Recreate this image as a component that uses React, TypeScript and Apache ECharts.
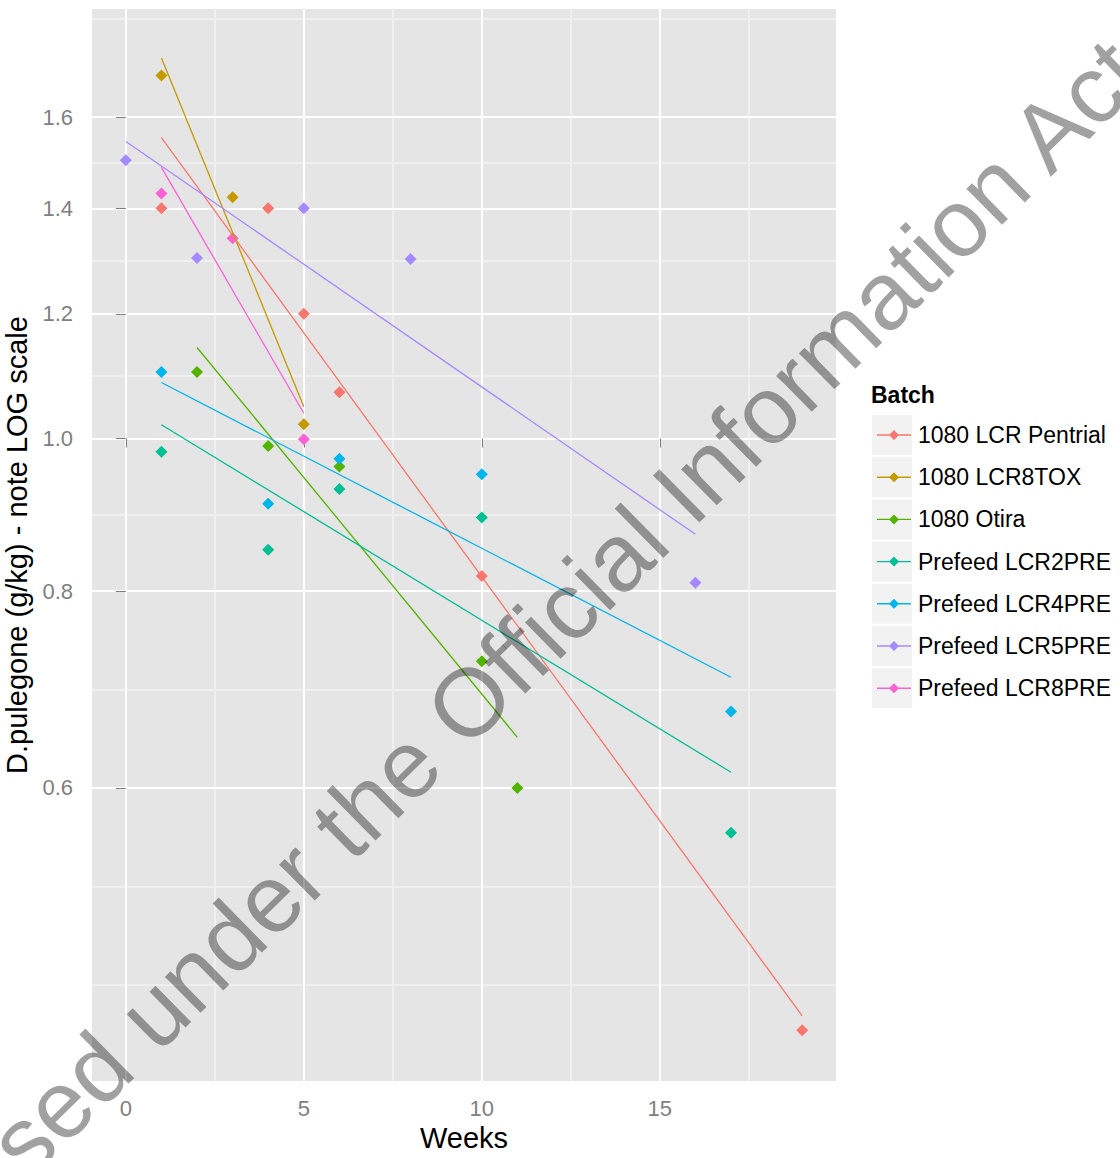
import React, { useEffect, useRef } from 'react';
import * as echarts from 'echarts';

const batches = [
  '1080 LCR Pentrial',
  '1080 LCR8TOX',
  '1080 Otira',
  'Prefeed LCR2PRE',
  'Prefeed LCR4PRE',
  'Prefeed LCR5PRE',
  'Prefeed LCR8PRE',
];
const batchColors = ['#F8766D', '#C49A00', '#53B400', '#00C094', '#00B6EB', '#A58AFF', '#FB61D7'];

// Weeks and D.pulegone (g/kg) per batch
const pentrialWeeks = [1, 4, 5, 6, 10, 19];
const pentrialValues = [1.4, 1.4, 1.2, 1.07, 0.818, 0.421];
const lcr8toxWeeks = [1, 3, 5];
const lcr8toxValues = [1.7, 1.423, 1.021];
const otiraWeeks = [2, 4, 6, 10, 11];
const otiraValues = [1.102, 0.989, 0.96, 0.722, 0.6];
const lcr2preWeeks = [1, 4, 6, 10, 17];
const lcr2preValues = [0.981, 0.85, 0.929, 0.891, 0.562];
const lcr4preWeeks = [1, 4, 6, 10, 17];
const lcr4preValues = [1.102, 0.909, 0.971, 0.949, 0.671];
const lcr5preWeeks = [0, 2, 5, 8, 16];
const lcr5preValues = [1.502, 1.302, 1.4, 1.3, 0.81];
const lcr8preWeeks = [1, 3, 5];
const lcr8preValues = [1.431, 1.34, 0.999];

const yTickLabels = [0.6, 0.8, 1.0, 1.2, 1.4, 1.6];
const xTickLabels = [0, 5, 10, 15];
const xMinorBreaks = [2.5, 7.5, 12.5, 17.5];

const FONT = '"Liberation Sans", Arial, sans-serif';
const DIAMOND_LINE_ICON = 'path://M0,4.3 L34,4.3 L34,5.7 L0,5.7 Z M17,0 L22,5 L17,10 L12,5 Z';

function fitLine(xs: number[], ys: number[]) {
  const n = xs.length;
  const mx = xs.reduce((a, b) => a + b, 0) / n;
  const my = ys.reduce((a, b) => a + b, 0) / n;
  let sxy = 0;
  let sxx = 0;
  for (let i = 0; i < n; i++) {
    sxy += (xs[i] - mx) * (ys[i] - my);
    sxx += (xs[i] - mx) * (xs[i] - mx);
  }
  const slope = sxy / sxx;
  const icpt = my - slope * mx;
  const x0 = Math.min(...xs);
  const x1 = Math.max(...xs);
  return [
    [x0, icpt + slope * x0],
    [x1, icpt + slope * x1],
  ];
}

export default function App() {
  const ref = useRef<HTMLDivElement>(null);

  useEffect(() => {
    if (!ref.current) return;
    const chart = echarts.init(ref.current, undefined, { renderer: 'svg' });

    const weeksList = [pentrialWeeks, lcr8toxWeeks, otiraWeeks, lcr2preWeeks, lcr4preWeeks, lcr5preWeeks, lcr8preWeeks];
    const valuesList = [pentrialValues, lcr8toxValues, otiraValues, lcr2preValues, lcr4preValues, lcr5preValues, lcr8preValues];

    const logTicks = yTickLabels.map((v) => Math.log10(v));
    const bd = logTicks[1] - logTicks[0];
    const ext = [logTicks[0] - bd, ...logTicks, logTicks[logTicks.length - 1] + bd];
    const yMinor: number[] = [];
    for (let i = 0; i < ext.length; i++) {
      yMinor.push(ext[i]);
      if (i < ext.length - 1) yMinor.push((ext[i] + ext[i + 1]) / 2);
    }
    const yMin = -0.4079;
    const yMax = 0.2727;
    const yMinorIn = yMinor.filter((v) => v > yMin && v < yMax);

    const series: any[] = [];
    batches.forEach((name, k) => {
      const xs = weeksList[k];
      const ys = valuesList[k].map((v) => Math.log10(v));
      series.push({
        name,
        type: 'scatter',
        xAxisIndex: 0,
        yAxisIndex: 0,
        symbol: 'diamond',
        symbolSize: 12,
        itemStyle: { color: batchColors[k], opacity: 1 },
        data: xs.map((x, i) => [x, ys[i]]),
        z: 3,
      });
      series.push({
        name,
        type: 'line',
        xAxisIndex: 0,
        yAxisIndex: 0,
        symbol: 'none',
        showSymbol: false,
        lineStyle: { color: batchColors[k], width: 1.3 },
        itemStyle: { color: batchColors[k] },
        data: fitLine(xs, ys),
        z: 4,
      });
    });

    const legendBoxes = batches.map((_, i) => ({
      type: 'rect',
      z: 1,
      shape: { x: 872, y: 415 + i * 42.2, width: 40, height: 40 },
      style: { fill: '#F2F2F2' },
    }));

    chart.setOption({
      animation: false,
      backgroundColor: '#FFFFFF',
      grid: {
        left: 92,
        right: 284,
        top: 9,
        bottom: 77,
        show: true,
        backgroundColor: '#E5E5E5',
        borderWidth: 0,
        containLabel: false,
        outerBoundsMode: 'none',
      },
      xAxis: [
        {
          type: 'value',
          min: -0.95,
          max: 19.95,
          name: 'Weeks',
          nameLocation: 'middle',
          nameGap: 41,
          nameTextStyle: { fontSize: 29, color: '#000', fontFamily: FONT },
          axisLine: { show: false },
          axisTick: { show: true, length: 9, lineStyle: { color: '#7F7F7F', width: 1 }, customValues: xTickLabels },
          axisLabel: { color: '#7F7F7F', fontSize: 22, fontFamily: FONT, margin: 16, customValues: xTickLabels },
          splitLine: { show: true, lineStyle: { color: '#FFFFFF', width: 2 } },
          z: 2,
        },
        {
          type: 'value',
          min: -0.95,
          max: 19.95,
          position: 'bottom',
          axisLine: { show: false },
          axisTick: { show: false, customValues: xMinorBreaks },
          axisLabel: { show: false, customValues: xMinorBreaks },
          splitLine: { show: true, lineStyle: { color: '#F2F2F2', width: 1.5 } },
          z: 1,
        },
      ],
      yAxis: [
        {
          type: 'value',
          min: yMin,
          max: yMax,
          name: 'D.pulegone (g/kg) - note LOG scale',
          nameLocation: 'middle',
          nameGap: 50,
          nameTextStyle: { fontSize: 29, color: '#000', fontFamily: FONT },
          axisLine: { show: false },
          axisTick: { show: true, length: 10, lineStyle: { color: '#7F7F7F', width: 1 }, customValues: logTicks },
          axisLabel: {
            color: '#7F7F7F',
            fontSize: 22,
            fontFamily: FONT,
            margin: 19,
            customValues: logTicks,
            formatter: (v: number) => Math.pow(10, v).toFixed(1),
          },
          splitLine: { show: true, lineStyle: { color: '#FFFFFF', width: 2 } },
          z: 2,
        },
        {
          type: 'value',
          min: yMin,
          max: yMax,
          position: 'left',
          axisLine: { show: false },
          axisTick: { show: false, customValues: yMinorIn },
          axisLabel: { show: false, customValues: yMinorIn },
          splitLine: { show: true, lineStyle: { color: '#F2F2F2', width: 1.5 } },
          z: 1,
        },
      ],
      legend: {
        orient: 'vertical',
        left: 877,
        top: 415,
        padding: 0,
        itemWidth: 34,
        itemHeight: 10,
        itemGap: 2.2,
        selectedMode: false,
        textStyle: { fontSize: 23, color: '#000', fontFamily: FONT, lineHeight: 34, padding: [6, 0, 0, 2] },
        data: batches.map((name) => ({ name, icon: DIAMOND_LINE_ICON })),
      },
      graphic: [
        ...legendBoxes,
        {
          type: 'text',
          z: 5,
          x: 871,
          y: 395,
          style: {
            text: 'Batch',
            fontSize: 23,
            fontWeight: 'bold',
            fontFamily: FONT,
            fill: '#000',
            align: 'left',
            verticalAlign: 'middle',
          },
        },
        {
          type: 'text',
          z: 100,
          x: 476,
          y: 695,
          rotation: (44.5 * Math.PI) / 180,
          style: {
            text: 'Released under the Official Information Act',
            fontSize: 96,
            fontFamily: FONT,
            fill: 'rgba(0,0,0,0.37)',
            align: 'center',
            verticalAlign: 'middle',
          },
        },
      ],
      series,
    });

    return () => chart.dispose();
  }, []);

  return (
    <div
      ref={ref}
      style={{ position: 'absolute', left: 0, top: 0, width: 1120, height: 1158 }}
    />
  );
}
